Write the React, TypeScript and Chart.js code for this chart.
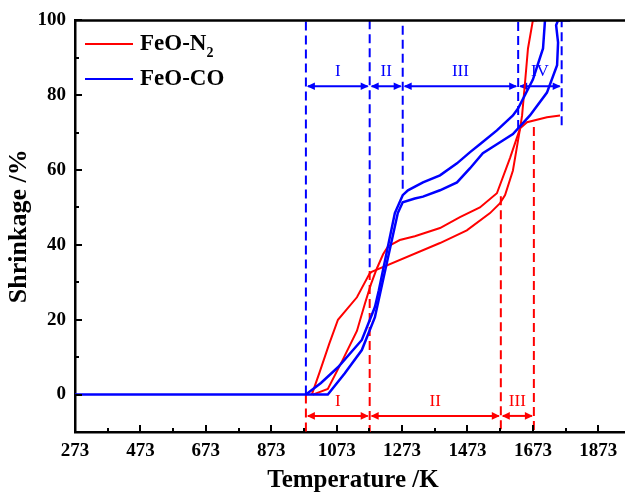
import React, { useEffect, useRef } from 'react';
import { Chart, registerables } from 'chart.js';

Chart.register(...registerables);

// ---- axes ----
const X_MIN = 273;
const X_MAX = 1973;
const Y_MIN = -10;
const Y_MAX = 100;
const xTickValues = [273, 373, 473, 573, 673, 773, 873, 973, 1073, 1173, 1273, 1373, 1473, 1573, 1673, 1773, 1873, 1973];
const xLabelValues = [273, 473, 673, 873, 1073, 1273, 1473, 1673, 1873];
const yTickValues = [-10, 0, 10, 20, 30, 40, 50, 60, 70, 80, 90, 100];
const yLabelValues = [0, 20, 40, 60, 80, 100];

// ---- FeO-CO (two branches) ----
const coT1 = [273, 1046, 1098, 1150, 1190, 1208, 1260, 1275, 1312, 1337, 1389, 1441, 1481, 1520, 1563, 1612, 1664, 1716, 1747, 1750, 1744, 1750, 1787];
const coS1 = [0, 0, 5.7, 11.9, 20.7, 27.9, 48.5, 51.4, 52.4, 52.9, 54.6, 56.7, 60.5, 64.5, 66.9, 69.6, 74.6, 80.7, 88.0, 94.1, 98.7, 100, 100];
const coT2 = [979, 1025, 1077, 1150, 1190, 1202, 1251, 1275, 1291, 1337, 1389, 1441, 1481, 1511, 1563, 1612, 1628, 1673, 1704, 1710];
const coS2 = [0, 3.1, 7.3, 14.6, 23.4, 27.9, 48.5, 53.3, 54.6, 56.7, 58.6, 61.8, 64.8, 66.9, 70.6, 74.6, 76.5, 84.2, 92.5, 100];

// ---- FeO-N2 (two branches) ----
const n2T1 = [997, 1021, 1050, 1077, 1135, 1174, 1180, 1389, 1471, 1542, 1572, 1588, 1612, 1634, 1655, 1716, 1756];
const n2S1 = [0, 6.0, 13.5, 20.0, 26.0, 32.4, 32.8, 40.5, 43.9, 48.5, 51.1, 53.3, 59.9, 71.2, 72.8, 74.1, 74.6];
const n2T2 = [1000, 1046, 1090, 1135, 1160, 1178, 1195, 1215, 1230, 1266, 1312, 1389, 1450, 1511, 1563, 1603, 1634, 1640, 1649, 1658, 1673, 1686];
const n2S2 = [0, 1.5, 9.0, 17.0, 24.5, 29.5, 33.5, 37.5, 39.6, 41.3, 42.3, 44.5, 47.4, 50.0, 53.8, 63.2, 71.2, 74.6, 83.4, 92.5, 100, 100];

// ---- stage boundaries ----
const coBounds = [979, 1174, 1275, 1628, 1761];
const coBoundLow = [0, 34, 55, 71, 72];
const coStages = ['I', 'II', 'III', 'IV'];
const coArrowS = 82.4;
const coLabelS = 86.4;

const n2Bounds = [979, 1174, 1575, 1676];
const n2BoundHigh = [0, 33, 53, 71.5];
const n2Stages = ['I', 'II', 'III'];
const n2ArrowS = -5.7;
const n2LabelS = -1.9;

const BLUE = '#0000ff';
const RED = '#ff0000';
const FONT = "'Liberation Serif', 'Times New Roman', serif";

const pts = (xs: number[], ys: number[]) => xs.map((x, i) => ({ x, y: ys[i] }));

function drawArrow(ctx: CanvasRenderingContext2D, x1: number, x2: number, y: number, color: string) {
  const hl = 8;
  const hw = 3.8;
  ctx.strokeStyle = color;
  ctx.fillStyle = color;
  ctx.lineWidth = 2;
  ctx.setLineDash([]);
  ctx.beginPath();
  ctx.moveTo(x1 + 2, y);
  ctx.lineTo(x2 - 2, y);
  ctx.stroke();
  ctx.beginPath();
  ctx.moveTo(x1 + 1, y);
  ctx.lineTo(x1 + 1 + hl, y - hw);
  ctx.lineTo(x1 + 1 + hl, y + hw);
  ctx.closePath();
  ctx.fill();
  ctx.beginPath();
  ctx.moveTo(x2 - 1, y);
  ctx.lineTo(x2 - 1 - hl, y - hw);
  ctx.lineTo(x2 - 1 - hl, y + hw);
  ctx.closePath();
  ctx.fill();
}

const annotations = {
  id: 'annotations',
  beforeDatasetsDraw(chart: any) {
    const { ctx, scales } = chart;
    const x = scales.x;
    const y = scales.y;
    ctx.save();
    ctx.font = `17px ${FONT}`;
    ctx.textAlign = 'center';
    ctx.textBaseline = 'middle';
    for (let i = 0; i < coStages.length; i++) {
      const a = x.getPixelForValue(coBounds[i]);
      const b = x.getPixelForValue(coBounds[i + 1]);
      drawArrow(ctx, a, b, y.getPixelForValue(coArrowS), BLUE);
      ctx.fillStyle = BLUE;
      ctx.fillText(coStages[i], (a + b) / 2, y.getPixelForValue(coLabelS));
    }
    for (let i = 0; i < n2Stages.length; i++) {
      const a = x.getPixelForValue(n2Bounds[i]);
      const b = x.getPixelForValue(n2Bounds[i + 1]);
      drawArrow(ctx, a, b, y.getPixelForValue(n2ArrowS), RED);
      ctx.fillStyle = RED;
      ctx.fillText(n2Stages[i], (a + b) / 2, y.getPixelForValue(n2LabelS));
    }
    ctx.restore();
  },
  afterDraw(chart: any) {
    const { ctx, chartArea: a, scales } = chart;
    const x = scales.x;
    const y = scales.y;
    ctx.save();
    ctx.strokeStyle = '#000';
    ctx.lineWidth = 2.5;
    ctx.beginPath();
    ctx.moveTo(a.left - 1, a.top);
    ctx.lineTo(a.right + 40, a.top);
    ctx.stroke();
    ctx.lineWidth = 2;
    ctx.beginPath();
    for (const v of xTickValues) {
      const px = Math.round(x.getPixelForValue(v));
      const len = xLabelValues.includes(v) ? 7 : 4;
      ctx.moveTo(px, a.bottom);
      ctx.lineTo(px, a.bottom - len);
    }
    for (const v of yTickValues) {
      const py = Math.round(y.getPixelForValue(v));
      const len = yLabelValues.includes(v) ? 7 : 4;
      ctx.moveTo(a.left, py);
      ctx.lineTo(a.left + len, py);
    }
    ctx.stroke();

    // legend
    const items = [
      { color: RED, text: 'FeO-N', sub: '2', yy: 44 },
      { color: BLUE, text: 'FeO-CO', sub: '', yy: 79 },
    ];
    for (const it of items) {
      ctx.strokeStyle = it.color;
      ctx.lineWidth = 2;
      ctx.beginPath();
      ctx.moveTo(85, it.yy);
      ctx.lineTo(133, it.yy);
      ctx.stroke();
      ctx.fillStyle = '#000';
      ctx.textAlign = 'left';
      ctx.textBaseline = 'middle';
      ctx.font = `bold 23px ${FONT}`;
      ctx.fillText(it.text, 140, it.yy);
      if (it.sub) {
        const w = ctx.measureText(it.text).width;
        ctx.font = `bold 14px ${FONT}`;
        ctx.fillText(it.sub, 140 + w, it.yy + 9);
      }
    }
    ctx.restore();
  },
};

export default function App() {
  const ref = useRef<HTMLCanvasElement | null>(null);

  useEffect(() => {
    if (!ref.current) return;
    const curve = (label: string, xs: number[], ys: number[], color: string, w: number, order: number) => ({
      label,
      data: pts(xs, ys),
      borderColor: color,
      backgroundColor: color,
      borderWidth: w,
      pointRadius: 0,
      showLine: true,
      tension: 0,
      fill: false,
      order,
    });
    const dashed = (xv: number, y0: number, y1: number, color: string) => ({
      label: '',
      data: [{ x: xv, y: y0 }, { x: xv, y: y1 }],
      borderColor: color,
      borderWidth: 2,
      borderDash: [9, 5],
      pointRadius: 0,
      showLine: true,
      fill: false,
      order: 10,
    });
    const datasets: any[] = [
      curve('FeO-CO', coT1, coS1, BLUE, 2.5, 0),
      curve('FeO-CO', coT2, coS2, BLUE, 2.5, 0),
      curve('FeO-N2', n2T1, n2S1, RED, 2, 1),
      curve('FeO-N2', n2T2, n2S2, RED, 2, 1),
      ...coBounds.map((b, i) => dashed(b, coBoundLow[i], Y_MAX, BLUE)),
      ...n2Bounds.map((b, i) => dashed(b, n2BoundHigh[i], Y_MIN, RED)),
    ];

    const chart = new Chart(ref.current, {
      type: 'scatter',
      data: { datasets },
      plugins: [annotations],
      options: {
        animation: false,
        responsive: false,
        events: [],
        layout: { padding: { top: 20, right: 29, left: 0, bottom: 0 } },
        plugins: { legend: { display: false }, tooltip: { enabled: false } },
        scales: {
          x: {
            type: 'linear',
            min: X_MIN,
            max: X_MAX,
            afterBuildTicks: (s: any) => {
              s.ticks = xTickValues.map((v) => ({ value: v }));
            },
            afterFit: (s: any) => {
              s.height = 64;
            },
            grid: { display: false, drawTicks: false },
            border: { display: true, color: '#000', width: 2.5 },
            ticks: {
              autoSkip: false,
              maxRotation: 0,
              padding: 8,
              color: '#000',
              font: { family: FONT, weight: 'bold', size: 19 },
              callback: (v: any) => (xLabelValues.includes(Number(v)) ? String(v) : ''),
            },
            title: {
              display: true,
              text: 'Temperature /K',
              color: '#000',
              font: { family: FONT, weight: 'bold', size: 25 },
              padding: { top: 0, bottom: 0 },
            },
          },
          y: {
            type: 'linear',
            min: Y_MIN,
            max: Y_MAX,
            afterBuildTicks: (s: any) => {
              s.ticks = yTickValues.map((v) => ({ value: v }));
            },
            afterFit: (s: any) => {
              s.width = 75;
            },
            grid: { display: false, drawTicks: false },
            border: { display: true, color: '#000', width: 2.5 },
            ticks: {
              autoSkip: false,
              padding: 9,
              color: '#000',
              font: { family: FONT, weight: 'bold', size: 19 },
              callback: (v: any) => (yLabelValues.includes(Number(v)) ? String(v) : ''),
            },
            title: {
              display: true,
              text: 'Shrinkage /%',
              color: '#000',
              font: { family: FONT, weight: 'bold', size: 26 },
              padding: { top: 4, bottom: 0 },
            },
          },
        },
      } as any,
    });
    return () => chart.destroy();
  }, []);

  return (
    <div style={{ position: 'absolute', left: 0, top: 0, width: 625, height: 496, overflow: 'hidden', background: '#fff' }}>
      <canvas ref={ref} width={660} height={496} style={{ width: 660, height: 496, display: 'block' }} />
    </div>
  );
}
